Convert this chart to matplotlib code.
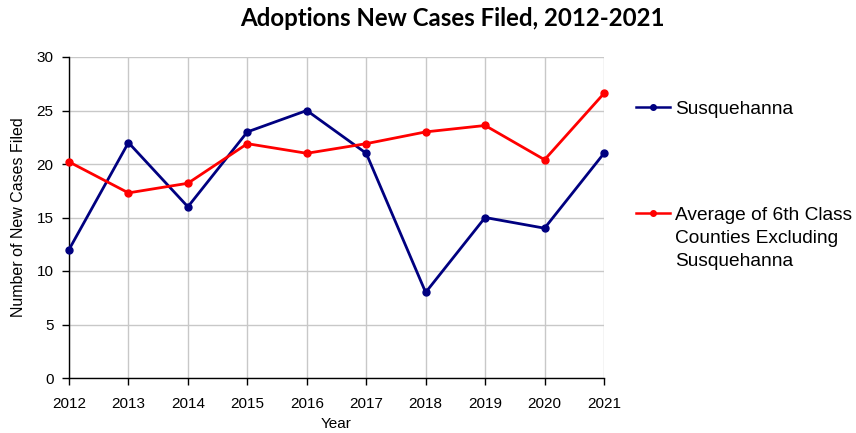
import matplotlib
matplotlib.use("Agg")
import matplotlib.pyplot as plt
from matplotlib.lines import Line2D

plt.rcParams['font.family'] = ['Liberation Sans', 'DejaVu Sans']

years = [2012, 2013, 2014, 2015, 2016, 2017, 2018, 2019, 2020, 2021]
susquehanna = [12, 22, 16, 23, 25, 21, 8, 15, 14, 21]
average_6th = [20.2, 17.3, 18.2, 21.9, 21.0, 21.9, 23.0, 23.6, 20.4, 26.6]
series_labels = [["Susquehanna"], ["Average of 6th Class", "Counties Excluding", "Susquehanna"]]
colors = ["#000080", "#FF0000"]

W, H = 856, 433
fig = plt.figure(figsize=(W / 100, H / 100), dpi=100)
ax = fig.add_axes([69 / W, 1 - 378 / H, (604 - 69) / W, (378 - 57) / H])

ax.plot(years, susquehanna, color=colors[0], lw=2.0, marker='o', ms=5, zorder=3, clip_on=False)
ax.plot(years, average_6th, color=colors[1], lw=2.0, marker='o', ms=5, zorder=3, clip_on=False)

ax.set_xlim(years[0], years[-1])
ax.set_ylim(0, 30)
ax.set_xticks(years)
ax.set_yticks(range(0, 31, 5))
ax.grid(True, color='#c8c8c8', lw=1.0)
ax.set_axisbelow(True)
for s in ['top', 'right']:
    ax.spines[s].set_visible(False)
for s in ['left', 'bottom']:
    ax.spines[s].set_color('black')
    ax.spines[s].set_linewidth(1.0)
ax.tick_params(axis='both', labelsize=11, direction='out', length=5, width=1, color='black')
ax.tick_params(axis='x', pad=9)
ax.tick_params(axis='y', pad=6)
ax.set_xlabel("Year", fontsize=11, labelpad=4)
ax.set_ylabel("Number of New Cases Filed", fontsize=11.5, labelpad=8)

fig.text(452 / W, 1 - 18 / H, "Adoptions New Cases Filed, 2012-2021", ha='center', va='center',
         fontsize=17.3, fontweight='bold', family=['Lato', 'DejaVu Sans'])

# legend
leg_y = [107, 213]
for lines, c, y in zip(series_labels, colors, leg_y):
    fig.add_artist(Line2D([636 / W, 670 / W], [1 - y / H, 1 - y / H], color=c, lw=1.8))
    fig.add_artist(Line2D([653 / W], [1 - y / H], color=c, marker='o', ms=4))
    for i, t in enumerate(lines):
        fig.text(675 / W, 1 - (y + 7 + 23 * i) / H, t, ha='left', va='baseline', fontsize=13.8)

fig.savefig("out.png", dpi=100)
